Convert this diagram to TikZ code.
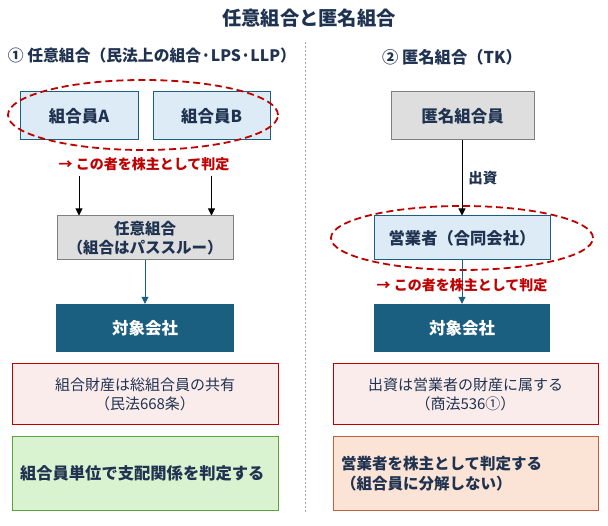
\documentclass[tikz,border=0pt]{standalone}
\usepackage{fontspec}
\setmainfont{Noto Sans CJK JP}
\usetikzlibrary{arrows.meta,calc}

\definecolor{navy}{HTML}{1F3350}
\definecolor{deepteal}{HTML}{1A5E80}
\definecolor{lightblue}{HTML}{DDEBF7}
\definecolor{framegray}{HTML}{7F7F7F}
\definecolor{boxgray}{HTML}{DEDEDE}
\definecolor{darkred}{HTML}{C00000}
\definecolor{pinkfill}{HTML}{FBECEC}
\definecolor{greenfill}{HTML}{D9F2D0}
\definecolor{greenline}{HTML}{5BA33B}
\definecolor{peachfill}{HTML}{FBE3D6}
\definecolor{orangeline}{HTML}{C0603A}

\tikzset{
	member/.style={draw=deepteal, fill=lightblue, line width=1pt, text=navy, inner sep=0pt,
		font=\bfseries\fontsize{16.5}{19}\selectfont, minimum height=48pt},
	grouped/.style={draw=framegray, fill=boxgray, line width=1pt, text=navy, inner sep=0pt,
		font=\bfseries\fontsize{15.5}{19}\selectfont, align=center},
	target/.style={fill=deepteal, text=white, inner sep=0pt,
		font=\bfseries\fontsize{16.5}{19}\selectfont, minimum height=48pt},
	notebox/.style={draw=darkred, fill=pinkfill, line width=1pt, text=navy, inner sep=0pt,
		font=\fontsize{15}{19}\selectfont, align=center, minimum height=61pt},
	resultbox/.style={line width=1pt, text=navy, inner xsep=8pt, inner ysep=0pt,
		font=\bfseries\fontsize{15.5}{20}\selectfont, align=left, minimum height=73pt},
	judge/.style={text=darkred, font=\bfseries\fontsize{14}{16}\selectfont, inner sep=0pt},
	heading/.style={text=navy, font=\bfseries\fontsize{15.8}{18}\selectfont, inner sep=0pt},
	ring/.style={draw=darkred, line width=1.8pt, dash pattern=on 7pt off 4pt},
	arr/.style={-{Triangle[width=7pt,length=7pt]}, line width=0.9pt},
	tealarr/.style={arr, draw=deepteal}
}

\begin{document}
\begin{tikzpicture}[x=1pt, y=-1pt]
	\useasboundingbox (0,0) rectangle (608,526);

	% title and columns
	\node[heading, font=\bfseries\fontsize{19.3}{21}\selectfont] (title) at (309,18) {任意組合と匿名組合};
	\node[heading] (headL) at (152,56) {① 任意組合（民法上の組合·LPS·LLP）};
	\node[heading, font=\bfseries\fontsize{16.3}{18}\selectfont] (headR) at (452,57) {② 匿名組合（TK）};
	\coordinate (divtop) at (305,42);
	\coordinate (divbot) at (305,512);
	\draw[draw=gray!70, line width=0.8pt, dash pattern=on 2pt off 2pt] (divtop) -- (divbot);

	% left: voluntary partnership
	\node[member, minimum width=118pt] (memA) at (79,116) {組合員A};
	\node[member, minimum width=117pt] (memB) at (211.5,116) {組合員B};
	\draw[ring] (143,115) ellipse [x radius=135pt, y radius=35pt];
	\node[judge] (judgeL) at (144,164) {→ この者を株主として判定};
	\node[grouped, minimum width=176pt, minimum height=44pt] (union) at (145,238) {任意組合\\（組合はパススルー）};
	\draw[arr] (judgeL.south -| memA) ++(0,5) -- (union.north -| memA);
	\draw[arr] (judgeL.south -| memB) ++(0,5) -- (union.north -| memB);
	\node[target, minimum width=178pt] (targetL) at (145,328) {対象会社};
	\draw[tealarr] (union) -- (targetL);
	\node[notebox, minimum width=266pt] (noteL) at (145,394.5) {組合財産は総組合員の共有\\（民法668条）};
	\node[resultbox, draw=greenline, fill=greenfill, font=\bfseries\fontsize{16.3}{20}\selectfont, minimum width=266pt, text width=250pt] (resultL) at (145,473.5) {組合員単位で支配関係を判定する};

	% right: silent partnership
	\node[grouped, font=\bfseries\fontsize{16.5}{19}\selectfont, minimum width=143pt, minimum height=48pt] (investor) at (462.5,116) {匿名組合員};
	\node[member, font=\bfseries\fontsize{16.3}{19}\selectfont, minimum width=176pt, minimum height=44pt] (operator) at (462,238) {営業者（合同会社）};
	\draw[ring] (operator) ellipse [x radius=131pt, y radius=32pt];
	\draw[arr] (investor.south -| operator) -- node[pos=0.5, right=6pt, text=navy, font=\bfseries\fontsize{14.5}{16}\selectfont, inner sep=0pt] (fund) {出資} (operator);
	\node[target, minimum width=176pt] (targetR) at (462,328) {対象会社};
	\draw[tealarr] (operator) -- (targetR);
	\node[judge] (judgeR) at (462,285) {→ この者を株主として判定};
	\node[notebox, minimum width=265pt] (noteR) at (465.5,394.5) {出資は営業者の財産に属する\\（商法536①）};
	\node[resultbox, draw=orangeline, fill=peachfill, minimum width=265pt, text width=249pt] (resultR) at (465.5,473.5) {営業者を株主として判定する\\（組合員に分解しない）};
\end{tikzpicture}
\end{document}
